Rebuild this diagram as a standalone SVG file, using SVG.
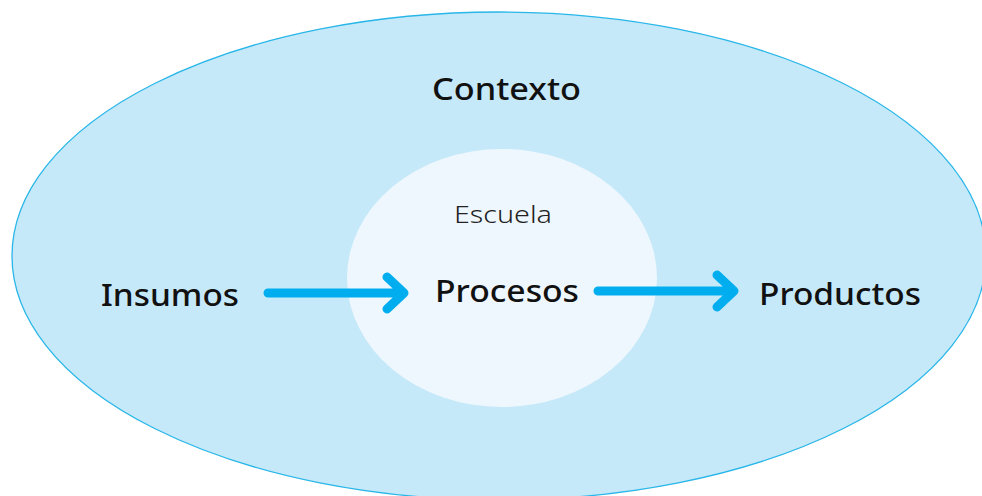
<svg xmlns="http://www.w3.org/2000/svg" width="982" height="496" viewBox="0 0 982 496">
<style>
.lbl{font-family:"Noto Sans","Liberation Sans",sans-serif;font-weight:500;fill:#111;font-size:30px}
.sub{font-family:"Noto Sans","Liberation Sans",sans-serif;font-weight:300;fill:#222;font-size:24px}
.arr{stroke:#00AEEF;stroke-width:9;stroke-linecap:round;stroke-linejoin:round;fill:none}
</style>
<rect width="982" height="496" fill="#fff"/>
<g id="contexto">
<ellipse cx="499" cy="256" rx="487" ry="244" fill="#C6E9F9" stroke="#29B6E8" stroke-width="1.3"/>
<text class="lbl" x="432" y="100" textLength="149" lengthAdjust="spacingAndGlyphs">Contexto</text>
</g>
<g id="escuela">
<ellipse cx="502" cy="278" rx="155" ry="129" fill="#EEF7FD"/>
<text class="sub" x="454" y="223" textLength="98" lengthAdjust="spacingAndGlyphs">Escuela</text>
</g>
<g id="insumos"><text class="lbl" x="101" y="306" textLength="138" lengthAdjust="spacingAndGlyphs">Insumos</text></g>
<g id="procesos"><text class="lbl" x="435" y="302" textLength="144" lengthAdjust="spacingAndGlyphs">Procesos</text></g>
<g id="productos"><text class="lbl" x="759" y="305" textLength="162" lengthAdjust="spacingAndGlyphs">Productos</text></g>
<g id="connectors">
<path class="arr" d="M268 293H403M387 277L404 293L387 309"/>
<path class="arr" d="M598 291H733M717 275L734 291L717 307"/>
</g>
</svg>
